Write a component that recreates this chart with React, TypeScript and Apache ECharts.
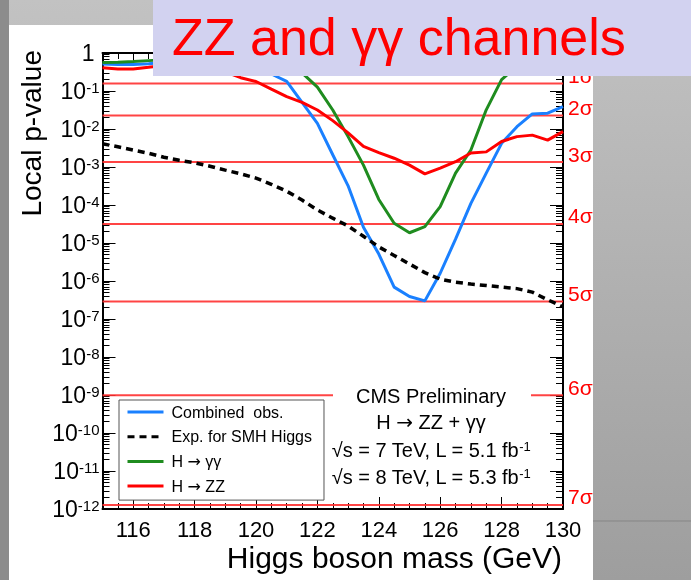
import React, { useEffect, useRef } from "react";
import * as echarts from "echarts";

const FONT = "'Liberation Sans', Arial, Helvetica, sans-serif";
const ARROW_FONT = "'DejaVu Sans', sans-serif";

// Higgs boson mass hypotheses (GeV)
const masses = [
  115, 115.5, 116, 116.5, 117, 117.5, 118, 118.5, 119, 119.5, 120, 120.5, 121, 121.5, 122, 122.5,
  123, 123.5, 124, 124.5, 125, 125.5, 126, 126.5, 127, 127.5, 128, 128.5, 129, 129.5, 130,
];

// Local p-values
const combinedObs = [
  0.51, 0.5, 0.5, 0.52, 0.56, 0.6, 0.6, 0.56, 0.5, 0.42, 0.35, 0.28, 0.18, 0.05, 0.0141, 2.1e-3,
  3.2e-4, 2.6e-5, 5.1e-6, 6.9e-7, 3.9e-7, 3.0e-7, 1.6e-6, 1.26e-5, 1.1e-4, 6.9e-4, 4.2e-3, 1.15e-2,
  2.5e-2, 2.6e-2, 3.9e-2,
];
const expectedSM = [
  4.1e-3, 3.4e-3, 2.8e-3, 2.3e-3, 1.8e-3, 1.5e-3, 1.29e-3, 1.05e-3, 8.3e-4, 6.6e-4, 5.1e-4, 3.5e-4,
  2.3e-4, 1.35e-4, 7.4e-5, 4.5e-5, 2.8e-5, 1.5e-5, 7.9e-6, 4.7e-6, 2.8e-6, 1.66e-6, 1.12e-6, 9.3e-7,
  8.3e-7, 7.6e-7, 6.9e-7, 6.3e-7, 5.1e-7, 3.2e-7, 2.1e-7,
];
const gammaGamma = [
  0.56, 0.575, 0.6, 0.63, 0.66, 0.69, 0.71, 0.71, 0.68, 0.63, 0.56, 0.5, 0.4, 0.3, 0.126, 0.0316,
  6.3e-3, 1.12e-3, 1.4e-4, 3.3e-5, 1.86e-5, 2.7e-5, 9.1e-5, 6.9e-4, 2.8e-3, 0.032, 0.2, 0.45, 0.56,
  0.63, 0.63,
];
const zzChannel = [
  0.41, 0.38, 0.38, 0.42, 0.47, 0.5, 0.5, 0.45, 0.32, 0.224, 0.178, 0.112, 0.0708, 0.05, 0.0316,
  0.0166, 7.9e-3, 3.5e-3, 2.4e-3, 1.7e-3, 1.12e-3, 6.6e-4, 9.3e-4, 1.38e-3, 2.34e-3, 2.5e-3, 4.7e-3,
  6.3e-3, 6.9e-3, 5.1e-3, 8.5e-3,
];

// significance reference lines
const sigmaPValues = [0.1587, 0.02275, 1.35e-3, 3.17e-5, 2.87e-7, 9.87e-10, 1.28e-12];
const sigmaLabels = ["1σ", "2σ", "3σ", "4σ", "5σ", "6σ", "7σ"];

// axis ticks
const xLabelValues = [116, 118, 120, 122, 124, 126, 128, 130];
const yDecades = [1, 1e-1, 1e-2, 1e-3, 1e-4, 1e-5, 1e-6, 1e-7, 1e-8, 1e-9, 1e-10, 1e-11, 1e-12];
const yMin = 1e-12;
const yMax = 1;

const seriesNames = ["Combined  obs.", "Exp. for SMH Higgs", "H → γγ", "H → ZZ"];
const seriesColors = ["#1a80ff", "#000000", "#1f8c1f", "#ff0000"];

const infoLines = ["CMS Preliminary", "H → ZZ + γγ"];
const lumiLines = [
  { text: "√s = 7 TeV, L = 5.1 fb", sup: "-1" },
  { text: "√s = 8 TeV, L = 5.3 fb", sup: "-1" },
];

function minorLogTicks(): number[] {
  const out: number[] = [];
  for (let e = -12; e < 0; e++) {
    for (let k = 2; k <= 9; k++) out.push(k * Math.pow(10, e));
  }
  return out;
}

function withArrow(s: string, tok: string) {
  return s
    .split("→")
    .map((part) => "{" + tok + "|" + part + "}")
    .join("{a|→}");
}

export default function App() {
  const ref = useRef<HTMLDivElement>(null);

  useEffect(() => {
    if (!ref.current) return;
    const chart = echarts.init(ref.current, undefined, { renderer: "svg" });
    const minor = minorLogTicks();

    const mk = (vals: number[]) => masses.map((m, i) => [m, vals[i]]);
    const dataSets = [combinedObs, expectedSM, gammaGamma, zzChannel];

    const lineSeries = dataSets.map((vals, i) => ({
      type: "line",
      name: seriesNames[i],
      data: mk(vals),
      xAxisIndex: 0,
      yAxisIndex: 0,
      symbol: "none",
      showSymbol: false,
      z: 5,
      lineStyle: {
        color: seriesColors[i],
        width: i === 1 ? 3.5 : 3,
        type: i === 1 ? [7, 5] : "solid",
      },
      itemStyle: { color: seriesColors[i] },
      emphasis: { disabled: true },
    }));

    const yBase = {
      type: "log",
      logBase: 10,
      min: yMin,
      max: yMax,
      splitLine: { show: false },
    };
    const xBase = {
      type: "value",
      min: 115,
      max: 130,
      splitLine: { show: false },
    };

    const option: any = {
      animation: false,
      backgroundColor: "transparent",
      textStyle: { fontFamily: FONT },
      grid: { left: 102.5, top: 53, width: 460.5, height: 456, containLabel: false },
      legend: {
        orient: "vertical",
        left: 119,
        top: 400,
        itemWidth: 36,
        itemHeight: 14,
        itemGap: 8.7,
        padding: [4, 12, 6, 7],
        backgroundColor: "#ffffff",
        borderColor: "#555555",
        borderWidth: 1,
        borderRadius: 0,
        z: 20,
        selectedMode: false,
        itemStyle: { opacity: 0 },
        lineStyle: { width: 3 },
        data: seriesNames,
        formatter: (name: string) => withArrow(name, "t"),
        textStyle: {
          fontSize: 16,
          color: "#000",
          fontFamily: FONT,
          padding: [0, 0, 0, 3],
          rich: {
            t: { fontSize: 16, color: "#000", fontFamily: FONT },
            a: { fontSize: 16, color: "#000", fontFamily: ARROW_FONT },
          },
        },
      },
      xAxis: [
        {
          ...xBase,
          position: "bottom",
          interval: 0.5,
          axisLine: { show: true, onZero: false, lineStyle: { color: "#000", width: 2 } },
          axisTick: { show: true, inside: true, length: 6, lineStyle: { color: "#000", width: 1 } },
          axisLabel: {
            show: true,
            customValues: xLabelValues,
            fontSize: 22,
            color: "#000",
            margin: 9,
            fontFamily: FONT,
            formatter: (v: number) => String(v),
          },
        },
        {
          ...xBase,
          position: "bottom",
          axisLine: { show: false, onZero: false },
          axisTick: { show: true, inside: true, length: 12, customValues: xLabelValues, lineStyle: { color: "#000", width: 1 } },
          axisLabel: { show: false },
        },
        {
          ...xBase,
          position: "top",
          interval: 0.5,
          axisLine: { show: true, onZero: false, lineStyle: { color: "#000", width: 2 } },
          axisTick: { show: true, inside: true, length: 6, lineStyle: { color: "#000", width: 1 } },
          axisLabel: { show: false },
        },
        {
          ...xBase,
          position: "top",
          axisLine: { show: false, onZero: false },
          axisTick: { show: true, inside: true, length: 12, customValues: xLabelValues, lineStyle: { color: "#000", width: 1 } },
          axisLabel: { show: false },
        },
      ],
      yAxis: [
        {
          ...yBase,
          position: "left",
          axisLine: { show: true, onZero: false, lineStyle: { color: "#000", width: 2 } },
          axisTick: { show: true, inside: true, length: 13, customValues: yDecades, lineStyle: { color: "#000", width: 1 } },
          axisLabel: {
            show: true,
            customValues: yDecades,
            margin: 3,
            showMinLabel: true,
            showMaxLabel: true,
            formatter: (v: number) => {
              const e = Math.round(Math.log10(v));
              if (e === 0) return "{b|1}{p| }";
              return "{b|10}{s|" + e + "}";
            },
            rich: {
              b: { fontSize: 23, color: "#000", fontFamily: FONT },
              s: { fontSize: 15, color: "#000", fontFamily: FONT, verticalAlign: "top" },
              p: { fontSize: 15, width: 5 },
            },
          },
        },
        {
          ...yBase,
          position: "left",
          axisLine: { show: false, onZero: false },
          axisTick: { show: true, inside: true, length: 7, customValues: minor, lineStyle: { color: "#000", width: 1 } },
          axisLabel: { show: false },
        },
        {
          ...yBase,
          position: "right",
          axisLine: { show: true, onZero: false, lineStyle: { color: "#000", width: 2 } },
          axisTick: { show: true, inside: true, length: 13, customValues: yDecades, lineStyle: { color: "#000", width: 1 } },
          axisLabel: { show: false },
        },
        {
          ...yBase,
          position: "right",
          axisLine: { show: false, onZero: false },
          axisTick: { show: true, inside: true, length: 7, customValues: minor, lineStyle: { color: "#000", width: 1 } },
          axisLabel: { show: false },
        },
      ],
      series: [
        {
          type: "custom",
          name: "sigma",
          coordinateSystem: "cartesian2d",
          xAxisIndex: 0,
          yAxisIndex: 0,
          z: 1,
          silent: true,
          clip: false,
          data: sigmaPValues.map((p, i) => [115, p, 130, i]),
          encode: { x: [0, 2], y: 1 },
          renderItem: (params: any, api: any) => {
            const p = api.value(1);
            const a = api.coord([api.value(0), p]);
            const b = api.coord([api.value(2), p]);
            const idx = api.value(3);
            return {
              type: "group",
              children: [
                {
                  type: "line",
                  shape: { x1: a[0], y1: a[1], x2: b[0], y2: b[1] },
                  style: { stroke: "#ff3030", lineWidth: 2, opacity: 0.9 },
                },
                {
                  type: "text",
                  x: b[0] + 5,
                  y: b[1] - 8,
                  style: {
                    text: sigmaLabels[idx],
                    fill: "#ff0000",
                    fontSize: 21,
                    fontFamily: FONT,
                    align: "left",
                    verticalAlign: "middle",
                  },
                },
              ],
            };
          },
        },
        ...lineSeries,
      ],
      graphic: [
        {
          type: "rect",
          z: -100,
          silent: true,
          shape: { x: 0, y: 0, width: 691, height: 580 },
          style: {
            fill: new echarts.graphic.LinearGradient(0, 0, 0, 1, [
              { offset: 0, color: "#c2c2c2" },
              { offset: 1, color: "#9e9e9e" },
            ]),
          },
        },
        {
          type: "rect",
          z: -99,
          silent: true,
          shape: { x: 0, y: 0, width: 9, height: 580 },
          style: { fill: "#8c8c8c" },
        },
        {
          type: "rect",
          z: -98,
          silent: true,
          shape: { x: 9, y: 25, width: 584, height: 555 },
          style: { fill: "#ffffff" },
        },
        {
          type: "line",
          z: -97,
          silent: true,
          shape: { x1: 593, y1: 521, x2: 691, y2: 521 },
          style: { stroke: "#858585", lineWidth: 1 },
        },
        // white block behind the CMS annotation (hides part of the 6σ line)
        {
          type: "rect",
          z: 50,
          silent: true,
          shape: { x: 333, y: 383, width: 198, height: 113 },
          style: { fill: "#ffffff" },
        },
        ...infoLines.map((t, i) => ({
          type: "text",
          z: 51,
          silent: true,
          x: 431,
          y: [396, 422][i],
          style: {
            text: withArrow(t, "n"),
            align: "center",
            verticalAlign: "middle",
            rich: {
              n: { fontSize: 20, fontFamily: FONT, fill: "#000" },
              a: { fontSize: 20, fontFamily: ARROW_FONT, fill: "#000" },
            },
          },
        })),
        ...lumiLines.map((l, i) => ({
          type: "text",
          z: 51,
          silent: true,
          x: 431,
          y: [450, 477][i],
          style: {
            text: "{n|" + l.text + "}{s|" + l.sup + "}",
            align: "center",
            verticalAlign: "middle",
            rich: {
              n: { fontSize: 20, fontFamily: FONT, fill: "#000" },
              s: { fontSize: 13, fontFamily: FONT, fill: "#000", verticalAlign: "top" },
            },
          },
        })),
        // axis titles
        {
          type: "text",
          z: 51,
          silent: true,
          x: 562,
          y: 557,
          style: {
            text: "Higgs boson mass (GeV)",
            fontSize: 30,
            fontFamily: FONT,
            fill: "#000",
            align: "right",
            verticalAlign: "middle",
          },
        },
        {
          type: "text",
          z: 51,
          silent: true,
          x: 31,
          y: 50,
          rotation: Math.PI / 2,
          style: {
            text: "Local p-value",
            fontSize: 28,
            fontFamily: FONT,
            fill: "#000",
            align: "right",
            verticalAlign: "middle",
          },
        },
        // slide title box
        {
          type: "rect",
          z: 100,
          silent: true,
          shape: { x: 153, y: 0, width: 538, height: 76 },
          style: { fill: "#d2d2f0" },
        },
        {
          type: "text",
          z: 101,
          silent: true,
          x: 172,
          y: 37,
          style: {
            text: "ZZ and γγ channels",
            fontSize: 52,
            fontFamily: FONT,
            fill: "#ff0000",
            align: "left",
            verticalAlign: "middle",
          },
        },
      ],
    };

    chart.setOption(option);
    return () => chart.dispose();
  }, []);

  return (
    <div
      ref={ref}
      style={{ position: "fixed", left: 0, top: 0, width: 691, height: 580 }}
    />
  );
}
